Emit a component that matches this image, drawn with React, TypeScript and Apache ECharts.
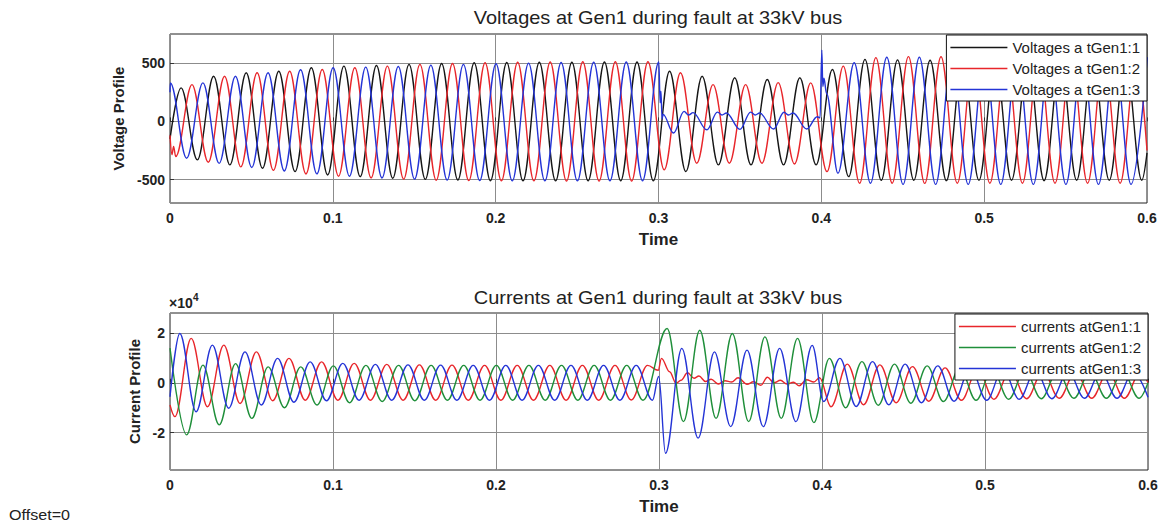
import React, { useEffect, useRef } from "react";
import * as echarts from "echarts";

type Pt = [number, number];
type Run = { t0: number; values: number[] };

// 50 Hz system: one waveform extremum every 10 ms
const HALF_CYCLE = 0.01;

const TIME_MIN = 0;
const TIME_MAX = 0.6;
const TIME_STEP = 0.1;

const voltageTicks = [-500, 0, 500];
const currentTicks = [-2, 0, 2];
const VOLT_MIN = -700;
const VOLT_MAX = 750;
const CURR_MIN = -3.5; // x10^4 A
const CURR_MAX = 2.8;

const voltageNames = ["Voltages a tGen1:1", "Voltages a tGen1:2", "Voltages a tGen1:3"];
const currentNames = ["currents atGen1:1", "currents atGen1:2", "currents atGen1:3"];

// ---- Voltages at Gen1, phase 1 (peaks/troughs, alternating) ----
const v1Pre: Run = { t0: 0.0068, values: [288, -330, 388, -373, 417, -402, 431, -431, 460, -460, 474, -474, 480, -488, 489, -497, 497, -503, 503, -509, 505, -510, 507, -510, 508, -510, 510, -510, 510, -510] };
const v1Fault: Run = { t0: 0.3068, values: [431, -431, 388, -373, 374, -373, 360, -373, 374, -373] };
const v1Post: Run = { t0: 0.4068, values: [446, -474, 532, -505, 528, -505, 525, -508, 525, -505, 525, -505, 525, -508, 525, -505, 525, -505, 525, -505] };
const v1Edges: Pt[] = [[0, -150], [0.6, -270]];

// ---- Voltages at Gen1, phase 2 ----
const v2Pre: Run = { t0: 0.0035, values: [-301, 316, -350, 388, -390, 417, -420, 431, -450, 446, -470, 460, -485, 474, -495, 489, -505, 497, -508, 503, -510, 508, -510, 510, -512, 512, -512, 512, -512, 512] };
const v2Fault: Run = { t0: 0.3035, values: [-416, 417, -359, 316, -359, 316, -359, 333, -365, 331] };
const v2Post: Run = { t0: 0.4035, values: [-431, 474, -531, 547, -530, 556, -532, 555, -530, 555, -530, 555, -530, 555, -530, 555, -530, 555, -530, 555] };
const v2Edges: Pt[] = [[0, -120], [0.0012, -285], [0.0022, -215], [0.6, -250]];

// ---- Voltages at Gen1, phase 3 ----
const v3Pre: Run = { t0: 0.0002, values: [330, -316, 331, -360, 388, -395, 417, -425, 443, -450, 460, -470, 466, -485, 471, -495, 483, -503, 489, -508, 495, -510, 500, -510, 505, -510, 508, -510, 510, -510] };
const v3Fault: Pt[] = [
  [0.3002, 510], [0.301, 160], [0.3015, 260], [0.3022, 20], [0.3028, 60],
  [0.3092, -100], [0.3157, 86], [0.3185, 55], [0.3212, 75],
  [0.3297, -72], [0.3362, 80], [0.339, 55], [0.3417, 72],
  [0.35, -68], [0.3566, 80], [0.3594, 55], [0.3621, 72],
  [0.3706, -65], [0.3771, 78], [0.3799, 55], [0.3826, 72],
  [0.391, -65], [0.3975, 40], [0.3992, 30], [0.4003, 612], [0.4009, 300], [0.4016, 370], [0.4032, 240],
];
const v3Post: Run = { t0: 0.4102, values: [-445, 503, -530, 550, -540, 550, -540, 550, -540, 550, -540, 550, -540, 550, -540, 550, -540, 550, -540, 550] };
const v3Edges: Pt[] = [[0, 250]];

// ---- Currents at Gen1, phase 1 (x10^4 A) ----
const i1Pre: Run = { t0: 0.003, values: [-1.36, 1.78, -0.96, 1.51, -0.83, 1.24, -0.72, 0.98, -0.7, 0.84, -0.7, 0.78, -0.7, 0.74, -0.7, 0.72, -0.7, 0.71, -0.7, 0.7, -0.7, 0.7, -0.7, 0.7, -0.7, 0.7, -0.7, 0.7, -0.69, 0.7] };
const i1Fault: Pt[] = [
  [0.2995, 0.5], [0.3015, 0.98], [0.3065, 0.44], [0.3105, -0.02], [0.3135, 0.1], [0.3175, 0.4],
  [0.3215, 0.18], [0.3245, 0.27], [0.3285, 0.05], [0.332, 0.14], [0.3365, -0.05], [0.3405, 0.08],
  [0.3445, 0.03], [0.3485, 0.2], [0.354, -0.06], [0.358, 0.04], [0.3625, -0.1], [0.3665, 0.22],
  [0.3705, 0.0], [0.3745, 0.1], [0.3785, -0.05], [0.3825, 0.02], [0.386, -0.12], [0.3905, 0.12],
  [0.395, 0.03], [0.3985, 0.2],
];
const i1Post: Run = { t0: 0.4055, values: [-0.96, 0.75, -0.88, 0.72, -0.8, 0.65, -0.74, 0.6, -0.7, 0.55, -0.66, 0.5, -0.64, 0.47, -0.62, 0.45, -0.62, 0.44, -0.62, 0.44] };
const i1Edges: Pt[] = [[0, -0.89], [0.6, 0]];

// ---- Currents at Gen1, phase 2 ----
const i2Pre: Run = { t0: 0.0102, values: [-2.09, 0.71, -1.69, 0.77, -1.43, 0.64, -1.0, 0.64, -0.89, 0.68, -0.8, 0.7, -0.75, 0.7, -0.72, 0.7, -0.7, 0.7, -0.7, 0.7, -0.7, 0.7, -0.7, 0.7, -0.7, 0.7, -0.7, 0.7, -0.7] };
const i2Fault: Run = { t0: 0.305, values: [2.18, -1.56, 2.11, -1.43, 1.98, -1.56, 1.84, -1.43, 1.78, -1.6] };
const i2Post: Run = { t0: 0.4045, values: [0.98, -1.0, 0.85, -0.9, 0.75, -0.82, 0.68, -0.75, 0.6, -0.7, 0.55, -0.66, 0.5, -0.64, 0.47, -0.62, 0.45, -0.62, 0.44, -0.62] };
const i2Edges: Pt[] = [[0, 1.39], [0.6, 0]];

// ---- Currents at Gen1, phase 3 ----
const i3Pre: Run = { t0: 0.006, values: [1.98, -1.16, 1.51, -1.02, 1.24, -0.89, 0.98, -0.78, 0.84, -0.72, 0.78, -0.7, 0.74, -0.7, 0.72, -0.7, 0.71, -0.7, 0.7, -0.7, 0.7, -0.7, 0.7, -0.7, 0.7, -0.7, 0.7, -0.7, 0.7, -0.7] };
const i3Fault: Run = { t0: 0.304, values: [-2.83, 1.38, -2.22, 1.24, -1.76, 1.31, -1.76, 1.38, -1.56, 1.5] };
const i3Post: Run = { t0: 0.401, values: [-0.75, 0.98, -0.95, 0.85, -0.88, 0.75, -0.8, 0.68, -0.74, 0.6, -0.7, 0.55, -0.66, 0.5, -0.64, 0.47, -0.62, 0.45, -0.62, 0.44] };
const i3Edges: Pt[] = [[0, -0.56], [0.2998, 0.25], [0.6, -0.58]];

const FONT = "'Liberation Sans', Arial, Helvetica, sans-serif";
const TEXT = "#222";
const GRID_LINE = "#8c8c8c";

// Assemble extrema runs (one point per half cycle) and single points into a time-ordered trace
function trace(runs: Run[], points: Pt[]): Pt[] {
  const out: Pt[] = points.slice();
  for (const r of runs) {
    r.values.forEach((v, i) => {
      out.push([Math.round((r.t0 + i * HALF_CYCLE) * 1e5) / 1e5, v]);
    });
  }
  out.sort((a, b) => a[0] - b[0]);
  return out;
}

const voltageData = [
  trace([v1Pre, v1Fault, v1Post], v1Edges),
  trace([v2Pre, v2Fault, v2Post], v2Edges),
  trace([v3Pre, v3Post], [...v3Fault, ...v3Edges]),
];
const currentData = [
  trace([i1Pre, i1Post], [...i1Fault, ...i1Edges]),
  trace([i2Pre, i2Fault, i2Post], i2Edges),
  trace([i3Pre, i3Fault, i3Post], i3Edges),
];

const voltageColors = ["#161616", "#e8262b", "#2434d6"];
const currentColors = ["#e8262b", "#1f8f3a", "#2434d6"];

function waveSeries(name: string, data: Pt[], color: string, axis: number) {
  return {
    name,
    type: "line",
    xAxisIndex: axis,
    yAxisIndex: axis,
    data,
    showSymbol: false,
    symbol: "none",
    smooth: 0.364,
    smoothMonotone: "x",
    lineStyle: { color, width: 1.4 },
    itemStyle: { color },
    emphasis: { disabled: true },
  };
}

function timeAxis(gridIndex: number) {
  return {
    type: "value",
    gridIndex,
    min: TIME_MIN,
    max: TIME_MAX,
    interval: TIME_STEP,
    name: "Time",
    nameLocation: "middle",
    nameGap: 28,
    nameTextStyle: { fontFamily: FONT, fontSize: 17, fontWeight: "bold", color: TEXT },
    axisLine: { show: false },
    axisTick: { show: true, inside: true, length: 4, lineStyle: { color: "#333" } },
    axisLabel: {
      fontFamily: FONT,
      fontSize: 14,
      fontWeight: "bold",
      color: TEXT,
      margin: 8,
      formatter: (v: number) => (v === 0 ? "0" : v.toFixed(1)),
    },
    splitLine: { show: true, lineStyle: { color: GRID_LINE, width: 1 } },
  };
}

function valueAxis(gridIndex: number, min: number, max: number, ticks: number[], name: string, gap: number) {
  return {
    type: "value",
    gridIndex,
    min,
    max,
    name,
    nameLocation: "middle",
    nameGap: gap,
    nameRotate: 90,
    nameTextStyle: { fontFamily: FONT, fontSize: 15, fontWeight: "bold", color: TEXT },
    axisLine: { show: false },
    axisTick: { show: true, inside: true, length: 4, customValues: ticks, lineStyle: { color: "#333" } },
    axisLabel: {
      fontFamily: FONT,
      fontSize: 14,
      fontWeight: "bold",
      color: TEXT,
      margin: 5,
      customValues: ticks,
    },
    splitLine: { show: true, lineStyle: { color: GRID_LINE, width: 1 } },
  };
}

function legendBox(names: string[], top: number, right: number) {
  return {
    data: names,
    orient: "vertical",
    top,
    right,
    padding: [5, 7, 4, 4],
    itemGap: 6,
    itemWidth: 57,
    itemHeight: 1.5,
    icon: "rect",
    backgroundColor: "#fff",
    borderColor: "#111",
    borderWidth: 1,
    borderRadius: 0,
    selectedMode: false,
    textStyle: { fontFamily: FONT, fontSize: 15, color: TEXT, lineHeight: 15 },
  };
}

function titleText(text: string, y: number) {
  return {
    type: "text",
    x: 658,
    y,
    scaleX: 1.11,
    style: { text, fontFamily: FONT, fontSize: 18, fill: TEXT, align: "center", verticalAlign: "middle" },
  };
}

export default function App() {
  const ref = useRef<HTMLDivElement>(null);

  useEffect(() => {
    if (!ref.current) return;
    const chart = echarts.init(ref.current, null, { renderer: "svg" });
    chart.setOption({
      animation: false,
      backgroundColor: "#fff",
      grid: [
        { left: 170, top: 34, width: 977, height: 169, show: true, borderColor: "#222", borderWidth: 1, backgroundColor: "transparent" },
        { left: 170, top: 313, width: 978, height: 157, show: true, borderColor: "#222", borderWidth: 1, backgroundColor: "transparent" },
      ],
      xAxis: [timeAxis(0), timeAxis(1)],
      yAxis: [
        valueAxis(0, VOLT_MIN, VOLT_MAX, voltageTicks, "Voltage Profile", 38),
        valueAxis(1, CURR_MIN, CURR_MAX, currentTicks, "Current Profile", 23),
      ],
      legend: [legendBox(voltageNames, 35, 21), legendBox(currentNames, 314, 20)],
      series: [
        ...voltageNames.map((n, k) => waveSeries(n, voltageData[k], voltageColors[k], 0)),
        ...currentNames.map((n, k) => waveSeries(n, currentData[k], currentColors[k], 1)),
      ],
      graphic: [
        titleText("Voltages at Gen1 during fault at 33kV bus", 18),
        titleText("Currents at Gen1 during fault at 33kV bus", 298),
        {
          type: "text",
          x: 169,
          y: 303,
          style: { text: "×10", fontFamily: FONT, fontSize: 14, fontWeight: "bold", fill: TEXT, align: "left", verticalAlign: "middle" },
        },
        {
          type: "text",
          x: 193,
          y: 297,
          style: { text: "4", fontFamily: FONT, fontSize: 10, fontWeight: "bold", fill: TEXT, align: "left", verticalAlign: "middle" },
        },
        {
          type: "text",
          x: 9,
          y: 515,
          scaleX: 1.15,
          style: { text: "Offset=0", fontFamily: FONT, fontSize: 14, fill: TEXT, align: "left", verticalAlign: "middle" },
        },
      ],
    });
    return () => chart.dispose();
  }, []);

  return <div ref={ref} style={{ position: "fixed", left: 0, top: 0, width: 1168, height: 524 }} />;
}
